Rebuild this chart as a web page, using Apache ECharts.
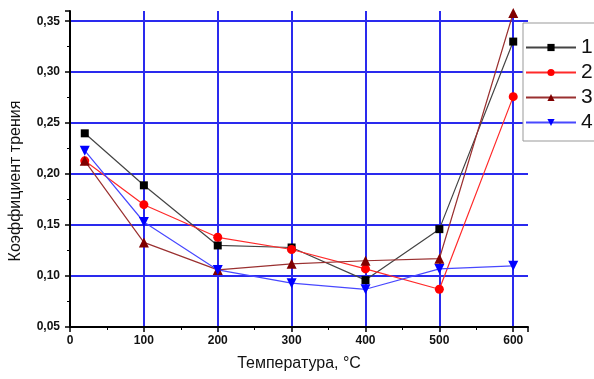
<!DOCTYPE html>
<html>
<head>
<meta charset="utf-8">
<script src="https://cdn.jsdelivr.net/npm/echarts@6/dist/echarts.min.js"></script>
<style>
  html, body { margin: 0; padding: 0; background: #fff; }
  #chart { width: 594px; height: 379px; }
</style>
</head>
<body>
<div id="chart"></div>
<script>
// temperatures, °C
const temps = [20, 100, 200, 300, 400, 500, 600];

// friction coefficient per sample
const series1 = [0.240, 0.189, 0.130, 0.128, 0.096, 0.146, 0.330];
const series2 = [0.213, 0.170, 0.138, 0.126, 0.107, 0.087, 0.276];
const series3 = [0.213, 0.133, 0.106, 0.112, 0.115, 0.117, 0.358];
const series4 = [0.223, 0.153, 0.106, 0.093, 0.087, 0.107, 0.110];

const seriesNames = ['1', '2', '3', '4'];

const FONT = '"Liberation Sans", Arial, sans-serif';
const GRID_BLUE = '#2a2aee';

function pairs(values) {
  return temps.map((t, i) => [t, values[i]]);
}

function lineSeries(name, values, lineColor, markColor, symbol, size, rotate) {
  return {
    name,
    type: 'line',
    data: pairs(values),
    symbol,
    symbolSize: size,
    symbolRotate: rotate || 0,
    lineStyle: { color: lineColor, width: 1.2 },
    itemStyle: { color: markColor },
    z: 3,
  };
}

const chart = echarts.init(document.getElementById('chart'), null, { renderer: 'canvas' });

chart.setOption({
  backgroundColor: '#fff',
  animation: false,
  textStyle: { fontFamily: FONT },
  grid: { left: 70, right: 66, top: 11, bottom: 52 },
  xAxis: {
    type: 'value',
    min: 0,
    max: 620,
    interval: 100,
    name: 'Температура, °C',
    nameLocation: 'middle',
    nameGap: 29,
    nameTextStyle: { fontFamily: FONT, fontSize: 16, color: '#111' },
    axisLine: { onZero: false, lineStyle: { color: '#000', width: 2 } },
    axisTick: { inside: false, length: 5, lineStyle: { color: '#000', width: 1.5 } },
    minorTick: { show: true, splitNumber: 2, length: 3, lineStyle: { color: '#000', width: 1 } },
    axisLabel: {
      fontFamily: FONT, fontSize: 12, fontWeight: 'bold', color: '#111', margin: 8,
      formatter: (v) => (v % 100 === 0 ? String(v) : ''),
    },
    splitLine: { show: true, showMinLine: false, showMaxLine: false, lineStyle: { color: GRID_BLUE, width: 2 } },
  },
  yAxis: {
    type: 'value',
    min: 0.05,
    max: 0.36,
    interval: 0.05,
    name: 'Коэффициент трения',
    nameLocation: 'middle',
    nameGap: 46,
    // pushed down a little, as in the source figure
    nameTextStyle: { fontFamily: FONT, fontSize: 16, color: '#111', padding: [0, 24, 0, 0] },
    axisLine: { show: true, lineStyle: { color: '#000', width: 2 } },
    axisTick: { show: true, inside: false, length: 5, lineStyle: { color: '#000', width: 1.5 } },
    minorTick: { show: true, splitNumber: 2, length: 3, lineStyle: { color: '#000', width: 1 } },
    axisLabel: {
      fontFamily: FONT, fontSize: 12, fontWeight: 'bold', color: '#111', margin: 10,
      formatter: (v) => {
        const r = Math.round(v * 100);
        return r % 5 === 0 && Math.abs(v * 100 - r) < 1e-6 ? (r / 100).toFixed(2).replace('.', ',') : '';
      },
    },
    splitLine: { show: true, showMinLine: false, showMaxLine: false, lineStyle: { color: GRID_BLUE, width: 2 } },
  },
  legend: {
    data: seriesNames,
    orient: 'vertical',
    left: 523,
    top: 23,
    padding: [14, 4, 8, 2],
    itemGap: 4,
    itemWidth: 50,
    itemHeight: 9,
    backgroundColor: '#fff',
    borderColor: '#999',
    borderWidth: 1,
    textStyle: { fontFamily: FONT, fontSize: 21, color: '#111', lineHeight: 21 },
  },
  series: [
    lineSeries(seriesNames[0], series1, '#444', '#000', 'rect', 8),
    lineSeries(seriesNames[1], series2, '#ff2a2a', '#ff0000', 'circle', 9),
    lineSeries(seriesNames[2], series3, '#9a3030', '#800000', 'triangle', 10),
    lineSeries(seriesNames[3], series4, '#4848ff', '#0000ff', 'triangle', 10, 180),
  ],
});
</script>
</body>
</html>
